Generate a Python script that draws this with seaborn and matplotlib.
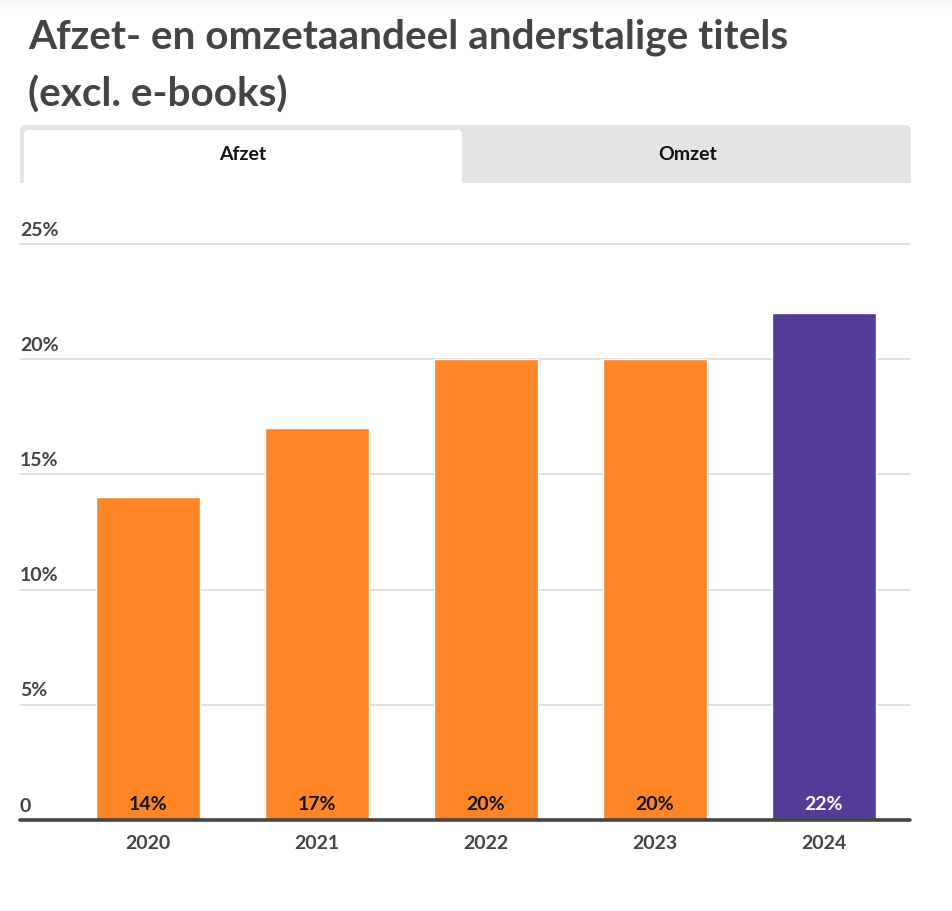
import matplotlib
matplotlib.use("Agg")
import matplotlib.pyplot as plt
import matplotlib.patches as mpatches
import matplotlib.transforms as mtrans
import seaborn as sns
import pandas as pd

# ---- data ----
years = ["2020", "2021", "2022", "2023", "2024"]
shares = [14, 17, 20, 20, 22]
bar_colors = ["#FD8526", "#FD8526", "#FD8526", "#FD8526", "#543B96"]
label_colors = ["#111111", "#111111", "#111111", "#111111", "#FFFFFF"]
y_ticks = [0, 5, 10, 15, 20, 25]
y_tick_labels = ["0", "5%", "10%", "15%", "20%", "25%"]
title = "Afzet- en omzetaandeel anderstalige titels\n(excl. e-books)"
tabs = ["Afzet", "Omzet"]

sns.set_theme(style="white")
plt.rcParams["font.family"] = ["Lato", "DejaVu Sans"]

W, H = 953, 911
fig = plt.figure(figsize=(W / 100, H / 100), dpi=100)

def fx(px):
    return px / W

def fy(py):
    return 1 - py / H

# top shadow
for i in range(10):
    fig.patches.append(mpatches.Rectangle((0, fy(i + 1)), 1, 1 / H, transform=fig.transFigure,
                                          facecolor="#000000", alpha=0.035 * (1 - i / 10), edgecolor="none"))

# title
fig.text(fx(28), fy(19), title, ha="left", va="top", fontsize=29.2, fontweight="bold",
         color="#444444", linespacing=1.62)

# tab bar
grey = "#E4E4E4"
fig.patches.append(mpatches.FancyBboxPatch((fx(20), fy(183)), fx(891), (183 - 125) / H,
                                           boxstyle="round,pad=0,rounding_size=0.006",
                                           transform=fig.transFigure, facecolor=grey, edgecolor="none"))
fig.patches.append(mpatches.Rectangle((fx(20), fy(183)), fx(891), 20 / H, transform=fig.transFigure,
                                      facecolor=grey, edgecolor="none"))
fig.patches.append(mpatches.FancyBboxPatch((fx(24), fy(183)), fx(438), (183 - 130) / H,
                                           boxstyle="round,pad=0,rounding_size=0.005",
                                           transform=fig.transFigure, facecolor="white", edgecolor="none"))
fig.patches.append(mpatches.Rectangle((fx(24), fy(183)), fx(438), 20 / H, transform=fig.transFigure,
                                      facecolor="white", edgecolor="none"))
fig.text(fx(243), fy(154), tabs[0], ha="center", va="center", fontsize=14, fontweight="bold", color="#111111")
fig.text(fx(688), fy(154), tabs[1], ha="center", va="center", fontsize=14, fontweight="bold", color="#111111")

# axes
ax = fig.add_axes([fx(20), fy(820), fx(890), (820 - 244) / H])
df = pd.DataFrame({"year": years, "share": shares})
sns.barplot(data=df, x="year", y="share", hue="year", palette=bar_colors, legend=False,
            width=0.615, saturation=1, ax=ax, zorder=3)
ax.set_xlim(-0.757, 4.509)
ax.set_ylim(0, 25)
for s in ax.spines.values():
    s.set_visible(False)
ax.set_xlabel("")
ax.set_ylabel("")
ax.set_yticks(y_ticks)
ax.set_yticklabels([])
ax.tick_params(axis="y", length=0)
ax.tick_params(axis="x", length=0, pad=11)
for lab in ax.get_xticklabels():
    lab.set_fontsize(14)
    lab.set_fontweight("bold")
    lab.set_color("#444444")

for v in y_ticks[1:]:
    ax.axhline(v, color="#DDDDDD", lw=1.3, zorder=1, clip_on=False)
ax.axhline(0, color="#444444", lw=2.6, zorder=5, clip_on=False)

blend = mtrans.blended_transform_factory(ax.transAxes, ax.transData)
for v, lab in zip(y_ticks, y_tick_labels):
    off = mtrans.offset_copy(blend, fig=fig, x=0, y=14, units="dots")
    ax.text(0, v, lab, transform=off, ha="left", va="center", fontsize=14,
            fontweight="bold", color="#444444")

for i, (v, c) in enumerate(zip(shares, label_colors)):
    off = mtrans.offset_copy(ax.transData, fig=fig, x=0, y=15, units="dots")
    ax.text(i, 0, f"{v}%", transform=off, ha="center", va="center", fontsize=14,
            fontweight="bold", color=c, zorder=6)

fig.savefig("out.png", dpi=100)
